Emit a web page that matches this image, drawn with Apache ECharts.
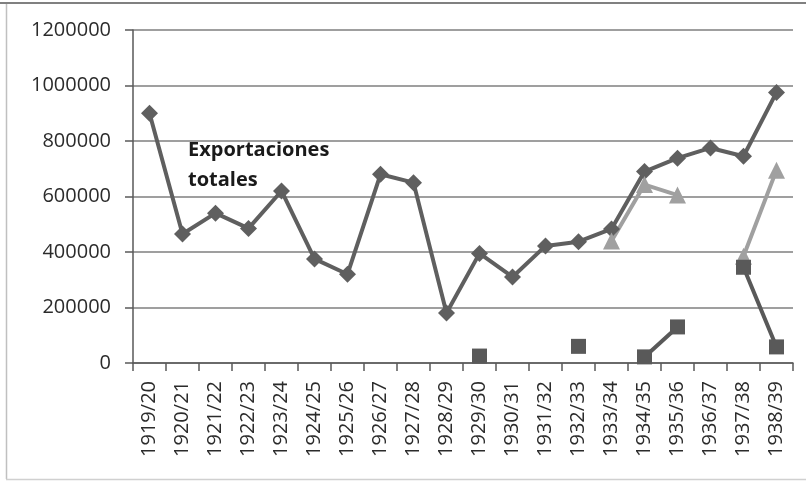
<!DOCTYPE html>
<html>
<head>
<meta charset="utf-8">
<script src="https://cdn.jsdelivr.net/npm/echarts@6/dist/echarts.min.js"></script>
<style>
html,body{margin:0;padding:0;background:#fff;}
#c{width:806px;height:481px;}
</style>
</head>
<body>
<div id="c"></div>
<script>
var categories = ['1919/20','1920/21','1921/22','1922/23','1923/24','1924/25','1925/26','1926/27','1927/28','1928/29','1929/30','1930/31','1931/32','1932/33','1933/34','1934/35','1935/36','1936/37','1937/38','1938/39'];
var totales = [900000,465000,540000,485000,620000,375000,320000,680000,650000,180000,395000,310000,422000,437000,483000,690000,738000,775000,745000,975000];
var triangulos = [null,null,null,null,null,null,null,null,null,null,null,null,null,null,440000,643000,605000,null,385000,695000];
var cuadrados = [null,null,null,null,null,null,null,null,null,null,25000,null,null,60000,null,22000,130000,null,345000,58000];
var yTicks = {min:0, max:1200000, interval:200000};

var chart = echarts.init(document.getElementById('c'));
var font = '"Open Sans", "Liberation Sans", sans-serif';
chart.setOption({
  animation:false,
  backgroundColor:'#fff',
  grid:{left:133, right:13, top:30, bottom:118},
  xAxis:{
    type:'category', data:categories, boundaryGap:true,
    axisLine:{lineStyle:{color:'#595959', width:1.5}},
    axisTick:{show:true, length:8, lineStyle:{color:'#595959', width:1.5}},
    axisLabel:{rotate:90, margin:18, fontSize:20, color:'#2b2b2b', fontFamily:font, interval:0}
  },
  yAxis:{
    type:'value', min:yTicks.min, max:yTicks.max, interval:yTicks.interval,
    axisLine:{show:true, lineStyle:{color:'#595959', width:1.5}},
    axisTick:{show:true, length:8, inside:false, lineStyle:{color:'#595959', width:1.5}},
    axisLabel:{margin:22, fontSize:20, color:'#2b2b2b', fontFamily:font, formatter:function(v){return String(v);}},
    splitLine:{show:true, lineStyle:{color:'#7f7f7f', width:1.5}}
  },
  series:[
    {type:'line', data:totales, symbol:'diamond', symbolSize:17, connectNulls:false,
     lineStyle:{color:'#5f5f5f', width:4}, itemStyle:{color:'#5f5f5f'}},
    {type:'line', data:triangulos, symbol:'triangle', symbolSize:17, connectNulls:false,
     lineStyle:{color:'#a0a0a0', width:4}, itemStyle:{color:'#a0a0a0'}},
    {type:'line', data:cuadrados, symbol:'rect', symbolSize:15, connectNulls:false,
     lineStyle:{color:'#595959', width:4}, itemStyle:{color:'#595959'}}
  ],
  graphic:[
    {type:'line', shape:{x1:0,y1:3,x2:806,y2:3}, style:{stroke:'#808080', lineWidth:2}, silent:true},
    {type:'line', shape:{x1:6.5,y1:4,x2:6.5,y2:479}, style:{stroke:'#c0c0c0', lineWidth:1.5}, silent:true},
    {type:'line', shape:{x1:6,y1:479.5,x2:806,y2:479.5}, style:{stroke:'#d0d0d0', lineWidth:1.5}, silent:true},
    {type:'text', left:188, top:135, style:{text:'Exportaciones\ntotales', font:'bold 20px "Open Sans", sans-serif', fill:'#1a1a1a', lineHeight:30}}
  ]
});
</script>
</body>
</html>
